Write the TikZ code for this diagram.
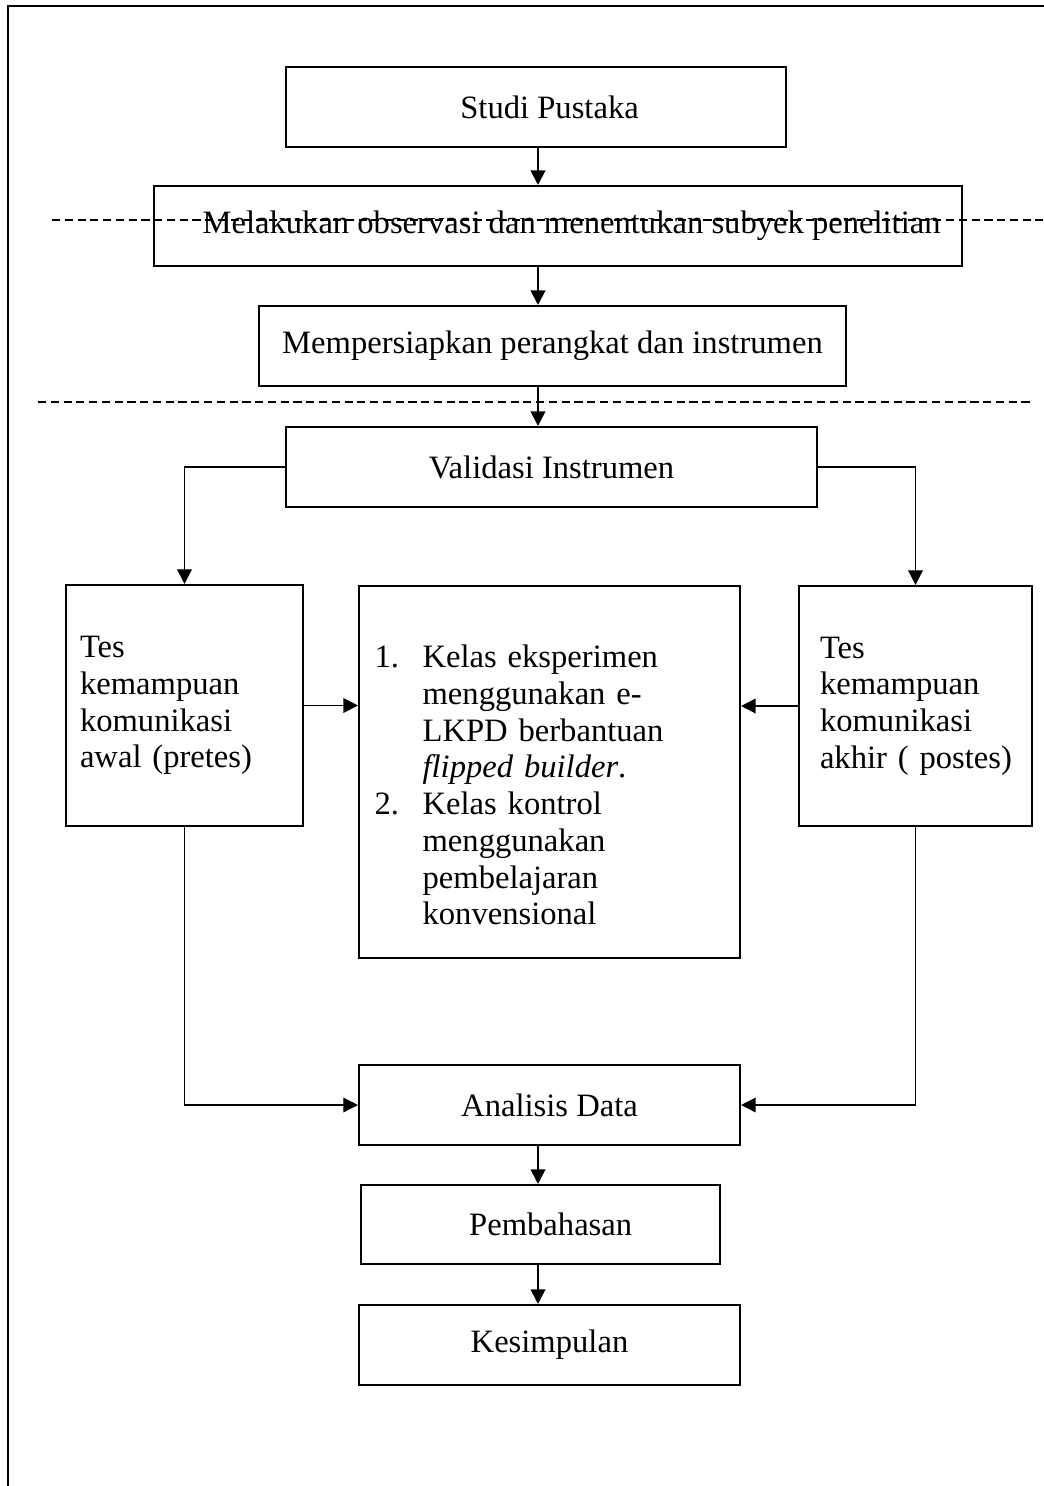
\documentclass[tikz,border=0pt]{standalone}
\usepackage{fontspec}
\setmainfont{Liberation Serif}
\usetikzlibrary{arrows.meta, positioning, calc}

\tikzset{
    kotak/.style={draw=black, line width=0.75pt, inner sep=0pt, align=center},
    ukuran/.style 2 args={minimum width={#1*0.368pt}, minimum height={#2*0.368pt}},
    panah/.style={line width=0.7pt, -{Triangle[length=5.4pt, width=5.4pt]}},
    siku/.style={line width=0.5pt, -{Triangle[length=5.4pt, width=5.4pt]}},
    putus/.style={line width=0.45pt, dash pattern=on 3pt off 1.7pt}
}

\begin{document}
\begin{tikzpicture}[x=0.368pt, y=-0.368pt, font=\fontsize{12}{13.5}\selectfont]

    \useasboundingbox (0,0) rectangle (1043,1486);
    \draw[line width=0.9pt] (8,1490) -- (8,6) -- (1047,6);

    \coordinate (poros) at (538,0);

    \node[kotak, ukuran={500}{80}] (studi) at (536,107) {\hspace*{10pt}Studi Pustaka};
    \node[kotak, ukuran={808}{80}] (melakukan) at (558,226) {\hspace*{10pt}Melakukan observasi dan menentukan subyek penelitian};
    \node[kotak, ukuran={587}{80}] (persiapan) at (552.5,346) {Mempersiapkan perangkat dan instrumen};
    \node[kotak, ukuran={531}{80}] (validasi) at (551.5,467) {Validasi Instrumen};

    \node[kotak, ukuran={237}{241}, align=left, text width={209*0.368pt}] (pretes) at (184.5,705.5)
        {Tes\\kemampuan\\komunikasi\\awal (pretes)};
    \node[kotak, ukuran={381}{372}, align=left, text width={350*0.368pt}] (kelas) at (549.5,772)
        {\rule{0pt}{18pt}\makebox[17.7pt][l]{1.}Kelas eksperimen\\
         \hspace*{17.7pt}menggunakan e-\\
         \hspace*{17.7pt}LKPD berbantuan\\
         \hspace*{17.7pt}\textit{flipped builder}.\\
         \makebox[17.7pt][l]{2.}Kelas kontrol\\
         \hspace*{17.7pt}menggunakan\\
         \hspace*{17.7pt}pembelajaran\\
         \hspace*{17.7pt}konvensional};
    \node[kotak, ukuran={233}{240}, align=left, text width={191*0.368pt}] (postes) at (915.5,706)
        {Tes\\kemampuan\\komunikasi\\\mbox{akhir ( postes)}};

    \node[kotak, ukuran={381}{80}] (analisis) at (549.5,1105) {Analisis Data};
    \node[kotak, ukuran={359}{79}] (bahas) at (540.5,1224.5) {\hspace*{7.5pt}Pembahasan};
    \node[kotak, ukuran={381}{80}] (simpul) at (549.5,1345) {Kesimpulan};

    \draw[putus] (52,220) -- (1043,220);
    \draw[putus] (38,402) -- (1032,402);

    \draw[panah] (studi.south -| poros) -- (melakukan.north -| poros);
    \draw[panah] (melakukan.south -| poros) -- (persiapan.north -| poros);
    \draw[panah] (persiapan.south -| poros) -- (validasi.north -| poros);

    \draw[siku] (validasi.west) -| (pretes.north);
    \draw[siku] (validasi.east) -| (postes.north);
    \draw[panah] (pretes.east) -- (kelas.west |- pretes.east);
    \draw[panah] (postes.west) -- (kelas.east |- postes.west);

    \draw[siku] (pretes.south) |- (analisis.west);
    \draw[siku] (postes.south) |- (analisis.east);

    \draw[panah] (analisis.south -| poros) -- (bahas.north -| poros);
    \draw[panah] (bahas.south -| poros) -- (simpul.north -| poros);

\end{tikzpicture}
\end{document}
